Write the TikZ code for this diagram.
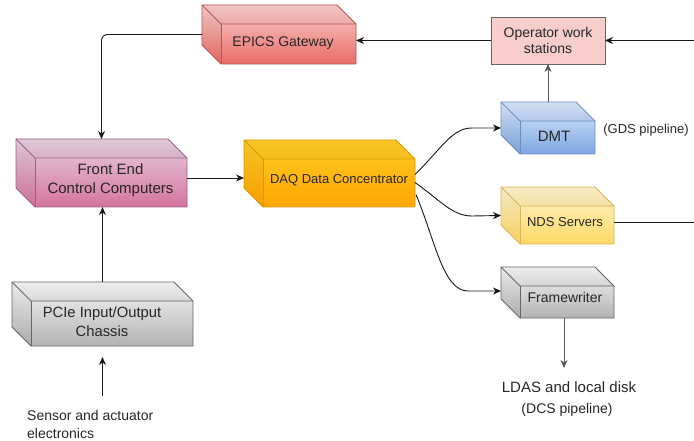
\documentclass[tikz,border=0pt]{standalone}
\usepackage{fontspec}
\setmainfont{Liberation Sans}
\usetikzlibrary{arrows.meta,calc}

\definecolor{epicsTop}{HTML}{F8CECC}
\definecolor{epicsBot}{HTML}{EA6B66}
\definecolor{epicsLine}{HTML}{B85450}
\definecolor{feTop}{HTML}{E6D0DE}
\definecolor{feBot}{HTML}{D5739D}
\definecolor{feLine}{HTML}{996185}
\definecolor{daqTop}{HTML}{FFCD28}
\definecolor{daqBot}{HTML}{FFA500}
\definecolor{daqLine}{HTML}{D79B00}
\definecolor{dmtTop}{HTML}{DAE8FC}
\definecolor{dmtBot}{HTML}{7EA6E0}
\definecolor{dmtLine}{HTML}{6C8EBF}
\definecolor{ndsTop}{HTML}{FFF2CC}
\definecolor{ndsBot}{HTML}{FFD966}
\definecolor{ndsLine}{HTML}{D6B656}
\definecolor{greyTop}{HTML}{F5F5F5}
\definecolor{greyBot}{HTML}{B3B3B3}
\definecolor{greyLine}{HTML}{666666}
\definecolor{opFill}{HTML}{F8CECC}

\def\cubedepth{19pt}

% Draw a drawio-style cube over the rectangle of node #1
\newcommand\cubeshape[4]{%
  \path[top color=#2, bottom color=#3]
    (#1.north west) -- ($(#1.north east)+(-\cubedepth,0)$)
    -- ($(#1.north east)+(0,-\cubedepth)$) -- (#1.south east)
    -- ($(#1.south west)+(\cubedepth,0)$) -- ($(#1.south west)+(0,\cubedepth)$) -- cycle;
  \fill[black, opacity=0.03]
    (#1.north west) -- ($(#1.north east)+(-\cubedepth,0)$)
    -- ($(#1.north east)+(0,-\cubedepth)$) -- ($(#1.north west)+(\cubedepth,-\cubedepth)$) -- cycle;
  \fill[black, opacity=0.04]
    (#1.north west) -- ($(#1.north west)+(\cubedepth,-\cubedepth)$)
    -- ($(#1.south west)+(\cubedepth,0)$) -- ($(#1.south west)+(0,\cubedepth)$) -- cycle;
  \draw[#4, line width=0.9pt, line join=round]
    (#1.north west) -- ($(#1.north east)+(-\cubedepth,0)$)
    -- ($(#1.north east)+(0,-\cubedepth)$) -- (#1.south east)
    -- ($(#1.south west)+(\cubedepth,0)$) -- ($(#1.south west)+(0,\cubedepth)$) -- cycle;
  \draw[#4, line width=0.9pt, line join=round]
    (#1.north west) -- ($(#1.north west)+(\cubedepth,-\cubedepth)$)
    -- ($(#1.north east)+(0,-\cubedepth)$);
  \draw[#4, line width=0.9pt]
    ($(#1.north west)+(\cubedepth,-\cubedepth)$) -- ($(#1.south west)+(\cubedepth,0)$);
}

\tikzset{
  cubearea/.style={rectangle, inner sep=0pt, outer sep=0pt},
  opbox/.style={rectangle, inner sep=0pt, outer sep=0pt, fill=opFill, draw=greyLine, line width=0.9pt},
  lbl/.style={inner sep=0pt, align=center, text=black!85},
  conn/.style={draw=black!90, line width=0.9pt},
  arr/.style={conn, -{Stealth[length=8pt,width=7pt,inset=2.5pt]}},
  greyarr/.style={arr, draw=black!65},
}

\begin{document}
\begin{tikzpicture}[x=1pt, y=-1pt]
\useasboundingbox (0,0) rectangle (694,441);

% ---- boxes ----
\node[cubearea, minimum width=154pt, minimum height=59pt] (epics) at (279,34.5) {};
\node[cubearea, minimum width=171pt, minimum height=68pt] (fe)    at (101.5,173) {};
\node[cubearea, minimum width=171pt, minimum height=67pt] (daq)   at (329.5,173.5) {};
\node[cubearea, minimum width=94pt,  minimum height=52pt] (dmt)   at (548,128) {};
\node[cubearea, minimum width=113pt, minimum height=57pt] (nds)   at (557.5,215.5) {};
\node[cubearea, minimum width=113pt, minimum height=51pt] (fw)    at (557.5,292.5) {};
\node[cubearea, minimum width=181pt, minimum height=64pt] (pcie)  at (102.5,314) {};

\cubeshape{epics}{epicsTop}{epicsBot}{epicsLine}
\cubeshape{fe}{feTop}{feBot}{feLine}
\cubeshape{daq}{daqTop}{daqBot}{daqLine}
\cubeshape{dmt}{dmtTop}{dmtBot}{dmtLine}
\cubeshape{nds}{ndsTop}{ndsBot}{ndsLine}
\cubeshape{fw}{greyTop}{greyBot}{greyLine}
\cubeshape{pcie}{greyTop}{greyBot}{greyLine}

\node[opbox, minimum width=114pt, minimum height=47pt] (op) at (548,40.5) {};

% ---- box labels ----
\node[lbl, font=\fontsize{14}{16}\selectfont] (epics-t) at (283,43) {EPICS Gateway};
\node[lbl, font=\fontsize{15}{19}\selectfont] (fe-t) at (110.5,180) {Front End\\Control Computers};
\node[lbl, font=\fontsize{13}{16}\selectfont] (daq-t) at (339,180) {DAQ Data Concentrator};
\node[lbl, font=\fontsize{14}{16}\selectfont] (op-t) at (548,40) {Operator work\\stations};
\node[lbl, font=\fontsize{15}{16}\selectfont] (dmt-t) at (554,136) {DMT};
\node[lbl, font=\fontsize{13}{16}\selectfont] (nds-t) at (565,222) {NDS Servers};
\node[lbl, font=\fontsize{14}{16}\selectfont] (fw-t) at (565,297) {Framewriter};
\node[lbl, font=\fontsize{14.8}{19}\selectfont] (pcie-t) at (102,322) {PCIe Input/Output\\Chassis};

% ---- free labels ----
\node[lbl, font=\fontsize{13}{16}\selectfont] (gds) at (646,130) {(GDS pipeline)};
\node[lbl, anchor=west, align=left, font=\fontsize{14}{18}\selectfont] (sens) at (27,424) {Sensor and actuator\\electronics};
\node[lbl, font=\fontsize{15}{16}\selectfont] (ldas) at (569,387) {LDAS and local disk};
\node[lbl, font=\fontsize{14}{16}\selectfont] (dcs) at (567,410) {(DCS pipeline)};

% ---- free connector ends and exit points ----
\coordinate (op-in) at (694,40.5);
\coordinate (nds-out) at (694,222);
\coordinate (sens-bot) at ($(pcie.south)+(0,-50pt)$);
\coordinate (sens-top) at ($(pcie.south)+(0,-11pt)$);
\coordinate (ldas-top) at (564,368);
\coordinate (fw-bot) at (fw.south -| ldas-top);
\coordinate (fe-out) at ($(fe.east)+(0,-5pt)$);
\coordinate (daq-a) at ($(daq.east)+(0,-1pt)$);
\coordinate (daq-b) at ($(daq.east)+(0,-9pt)$);
\coordinate (daq-c) at ($(daq.east)+(1pt,-21pt)$);
\coordinate (fw-in) at (501,291);

% ---- connectors ----
\draw[arr] (op-in) -- (op.east);
\draw[arr] (op.west) -- (op.west -| epics.east);
\draw[arr, rounded corners=6pt] (epics.west) -- (epics.west -| fe.north) -- (fe.north);
\draw[arr] (fe-out) -- (fe-out -| daq.west);
\draw[arr] (pcie.north) -- (pcie.north |- fe.south);
\draw[arr] (sens-bot) -- (sens-top);

\draw[arr] (daq-a) .. controls (442,148) and (452,128) .. (472,128) -- (dmt.west);
\draw[arr] (daq-b) .. controls (440,200) and (452,216) .. (472,216) -- (nds.west);
\draw[arr] (daq-c) .. controls (435,240) and (443,291) .. (468,291) -- (fw-in);

\draw[greyarr] (dmt.north) -- (op.south);
\draw[conn] (nds.east |- nds-out) -- (nds-out);
\draw[greyarr] (fw-bot) -- (ldas-top);

\end{tikzpicture}
\end{document}
